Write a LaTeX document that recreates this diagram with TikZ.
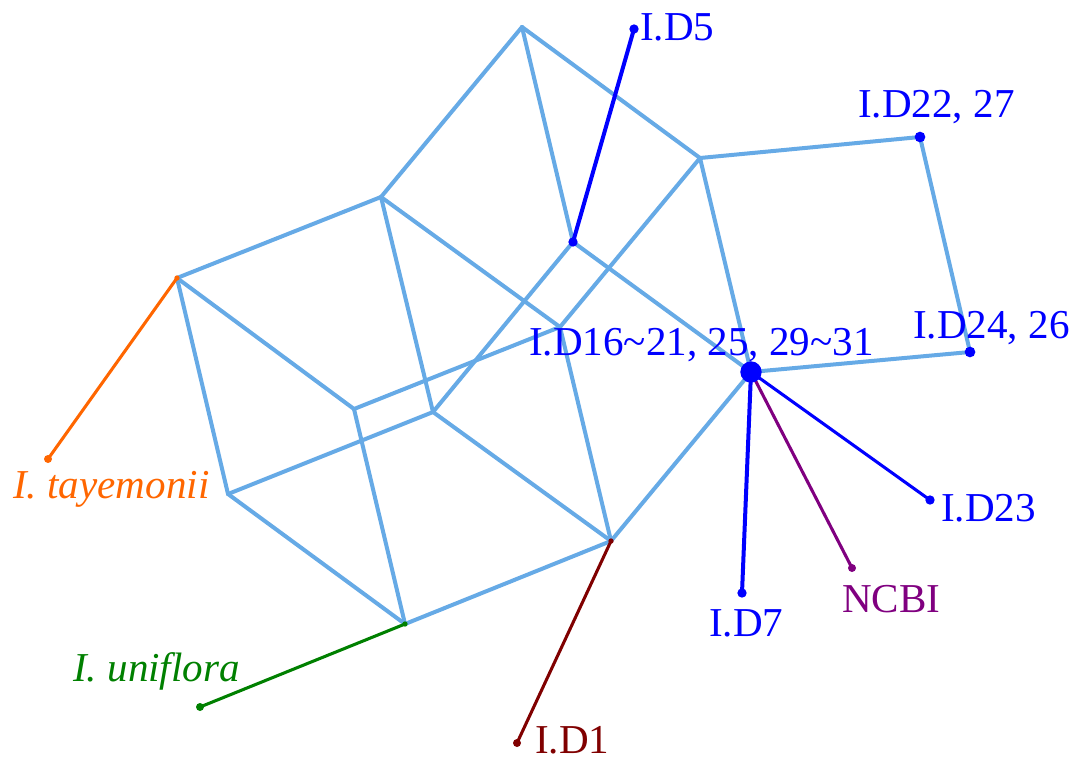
\documentclass[tikz,border=0pt]{standalone}
\usepackage{fontspec}
\setmainfont{Liberation Serif}
\definecolor{lblue}{RGB}{102,170,230}
\definecolor{orng}{RGB}{255,102,0}
\definecolor{grn}{RGB}{0,128,0}
\definecolor{dred}{RGB}{128,0,0}
\definecolor{purp}{RGB}{128,0,128}
\definecolor{blu}{RGB}{0,0,255}
\tikzset{
  edge/.style={draw=lblue,line width=3pt,line cap=round,line join=round},
  arm/.style={line width=2.3pt,line cap=round},
  dot/.style={circle,inner sep=0pt,minimum size=#1,fill},
  lab/.style={anchor=base west,inner sep=0pt,font=\fontsize{30.8}{33}\selectfont},
}
\begin{document}
\begin{tikzpicture}[x=0.75pt,y=-0.75pt]
\useasboundingbox (0,0) rectangle (1080,764);
% junctions
\coordinate (T) at (522,27);
\coordinate (A) at (381,197);
\coordinate (L) at (177,278);
\coordinate (F) at (573,242);
\coordinate (R) at (700,158);
\coordinate (N) at (560,327);
\coordinate (P) at (354,409);
\coordinate (Q) at (433,412);
\coordinate (LB) at (228,494);
\coordinate (B) at (405,624);
\coordinate (J) at (611,541);
\coordinate (H) at (751,372);
\coordinate (K) at (920,137);
\coordinate (M) at (970,352);
% leaves
\coordinate (eTay) at (48,459);
\coordinate (eUni) at (200,707);
\coordinate (eD1) at (517,743);
\coordinate (eD5) at (634,29);
\coordinate (eD7) at (742,593);
\coordinate (eNC) at (852,568);
\coordinate (eD23) at (930,500);
% light blue network
\draw[edge] (T) -- (A);
\draw[edge] (T) -- (F);
\draw[edge] (T) -- (R);
\draw[edge] (A) -- (L);
\draw[edge] (A) -- (Q);
\draw[edge] (A) -- (N);
\draw[edge] (F) -- (Q);
\draw[edge] (F) -- (H);
\draw[edge] (R) -- (N);
\draw[edge] (R) -- (K);
\draw[edge] (R) -- (H);
\draw[edge] (K) -- (M);
\draw[edge] (M) -- (H);
\draw[edge] (L) -- (P);
\draw[edge] (L) -- (LB);
\draw[edge] (LB) -- (Q);
\draw[edge] (LB) -- (B);
\draw[edge] (P) -- (B);
\draw[edge] (P) -- (N);
\draw[edge] (N) -- (J);
\draw[edge] (Q) -- (J);
\draw[edge] (B) -- (J);
\draw[edge] (J) -- (H);
% coloured arms
\draw[arm,orng] (L) -- (eTay);
\draw[arm,grn] (B) -- (eUni);
\draw[arm,dred] (J) -- (eD1);
\draw[arm,blu,line width=3pt] (F) -- (eD5);
\draw[arm,blu,line width=3pt] (H) -- (eD7);
\draw[arm,purp] (H) -- (eNC);
\draw[arm,blu] (H) -- (eD23);
% dots
\node[dot=6pt,orng] (dTay) at (eTay) {};
\node[dot=4pt,orng] (dL) at (L) {};
\node[dot=6pt,grn] (dUni) at (eUni) {};
\node[dot=4pt,grn] (dB) at (B) {};
\node[dot=6pt,dred] (dD1) at (eD1) {};
\node[dot=4pt,dred] (dJ) at (J) {};
\node[dot=7pt,blu] (dD5) at (eD5) {};
\node[dot=7pt,blu] (dF) at (F) {};
\node[dot=8pt,blu] (dK) at (K) {};
\node[dot=8pt,blu] (dM) at (M) {};
\node[dot=16pt,blu] (dH) at (H) {};
\node[dot=7pt,blu] (dD7) at (eD7) {};
\node[dot=6pt,purp] (dNC) at (eNC) {};
\node[dot=7pt,blu] (dD23) at (eD23) {};
% labels
\node[lab,orng] (tTay) at (13,498) {\itshape I. tayemonii};
\node[lab,grn] (tUni) at (73,681) {\itshape I. uniflora};
\node[lab,dred] (tD1) at (535,753) {I.D1};
\node[lab,blu] (tD5) at (640,40) {I.D5};
\node[lab,blu] (tK) at (858,117) {I.D22, 27};
\node[lab,blu] (tM) at (913,338) {I.D24, 26};
\node[lab,blu] (tH) at (529,355) {I.D16\char"007E 21, 25, 29\char"007E 31};
\node[lab,blu] (tD7) at (709,636) {I.D7};
\node[lab,purp] (tNC) at (842,612) {NCBI};
\node[lab,blu] (tD23) at (941,521) {I.D23};
\end{tikzpicture}
\end{document}
